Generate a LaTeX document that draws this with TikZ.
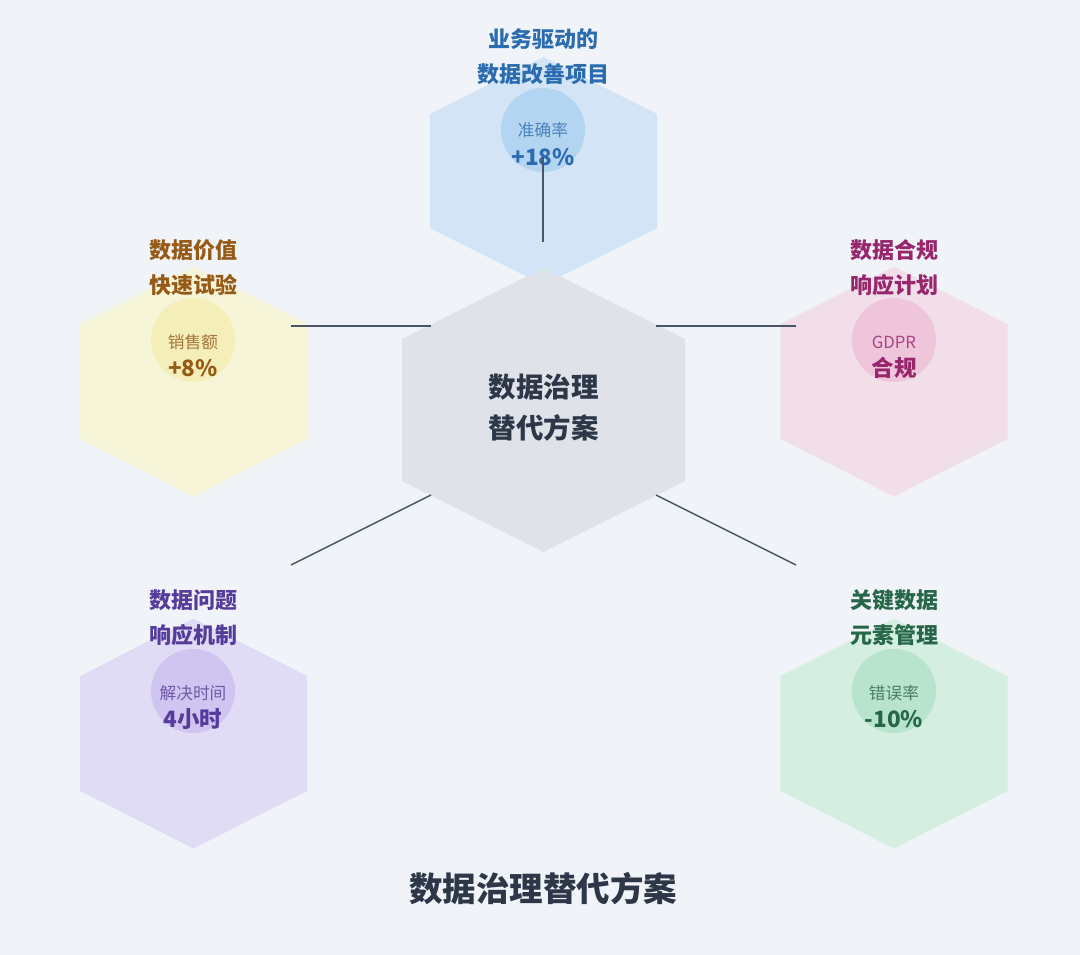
\documentclass[tikz,border=0pt]{standalone}
\usepackage{fontspec}
\setmainfont{Noto Sans CJK SC}
\definecolor{bg}{HTML}{F0F4F8}
\definecolor{linec}{HTML}{4A5568}
\definecolor{darkt}{HTML}{2D3748}
\definecolor{blueT}{HTML}{2B6CB0}\definecolor{blueH}{HTML}{D2E4F5}\definecolor{blueC}{HTML}{B4D5F2}
\definecolor{brownT}{HTML}{975A16}\definecolor{brownH}{HTML}{F6F5D8}\definecolor{brownC}{HTML}{F4EFB8}
\definecolor{pinkT}{HTML}{97266D}\definecolor{pinkH}{HTML}{F2DEE9}\definecolor{pinkC}{HTML}{EEC5DA}
\definecolor{purpT}{HTML}{553C9A}\definecolor{purpH}{HTML}{E0DCF5}\definecolor{purpC}{HTML}{D0C4F0}
\definecolor{greenT}{HTML}{276749}\definecolor{greenH}{HTML}{D4EEE2}\definecolor{greenC}{HTML}{B8E4CE}
\definecolor{centH}{HTML}{DEE2E8}
\newcommand\hexpath[4]{(#1,#2-#4) -- (#1+#3,#2-#4/2) -- (#1+#3,#2+#4/2) -- (#1,#2+#4) -- (#1-#3,#2+#4/2) -- (#1-#3,#2-#4/2) -- cycle}
\tikzset{
  metcircle/.style={circle, minimum size=84pt, inner sep=0pt},
  sidetitle/.style={font=\fontsize{22}{34.5}\selectfont\bfseries, align=center, inner sep=0pt},
  metlabel/.style={font=\fontsize{16.7}{18}\selectfont, inner sep=0pt},
  metvalue/.style={font=\fontsize{22.5}{24}\selectfont\bfseries, inner sep=0pt},
  conn/.style={draw=linec, line width=1.4pt},
}
\begin{document}
\begin{tikzpicture}[x=1pt,y=-1pt]
\fill[bg] (0,0) rectangle (1080,955);
\useasboundingbox (0,0) rectangle (1080,955);
% hexagons
\fill[blueH] \hexpath{543.5}{171}{113.5}{114};
\fill[brownH] \hexpath{193.5}{381.5}{113.5}{115};
\fill[pinkH] \hexpath{894}{381.5}{113.5}{115};
\fill[purpH] \hexpath{193.5}{733.5}{113.5}{115};
\fill[greenH] \hexpath{894}{733.5}{113.5}{115};
\fill[centH, fill opacity=0.92] \hexpath{543.5}{410}{141.5}{142};
% circles
\node[metcircle, fill=blueC] (ctop) at (543,130) {};
\node[metcircle, fill=brownC] (cleft) at (193,340) {};
\node[metcircle, fill=pinkC] (cright) at (894,340) {};
\node[metcircle, fill=purpC] (cbl) at (193,691) {};
\node[metcircle, fill=greenC] (cbr) at (894,691) {};
% metric texts
\node[metlabel, text=blueT!85!white] (mtop) at (543,130) {准确率};
\node[metvalue, text=blueT] (vtop) at (543,157) {+18\%};
\node[metlabel, text=brownT!85!white] (mleft) at (193,342) {销售额};
\node[metvalue, text=brownT] (vleft) at (193,368) {+8\%};
\node[metlabel, text=pinkT!85!white] (mright) at (894,342) {GDPR};
\node[metvalue, text=pinkT] (vright) at (894,368) {合规};
\node[metlabel, text=purpT!85!white] (mbl) at (193,693) {解决时间};
\node[metvalue, text=purpT] (vbl) at (193,719) {4小时};
\node[metlabel, text=greenT!85!white] (mbr) at (894,693) {错误率};
\node[metvalue, text=greenT] (vbr) at (894,719) {-10\%};
% titles
\node[sidetitle, text=blueT] (ttop) at (543,56.5) {业务驱动的\\数据改善项目};
\node[sidetitle, text=brownT] (tleft) at (193,267.5) {数据价值\\快速试验};
\node[sidetitle, text=pinkT] (tright) at (894,267.5) {数据合规\\响应计划};
\node[sidetitle, text=purpT] (tbl) at (193,617.5) {数据问题\\响应机制};
\node[sidetitle, text=greenT] (tbr) at (894,617.5) {关键数据\\元素管理};
% center
\node[font=\fontsize{27.5}{41}\selectfont\bfseries, text=darkt, align=center, inner sep=0pt] (center) at (543.5,408) {数据治理\\替代方案};
\node[font=\fontsize{33.5}{36}\selectfont\bfseries, text=darkt, inner sep=0pt] (title) at (543,889) {数据治理替代方案};
% connector end points
\coordinate (a1) at (543,242); \coordinate (a2) at (543,157);
\coordinate (b1) at (431,326); \coordinate (b2) at (291,326);
\coordinate (c1) at (656,326); \coordinate (c2) at (796,326);
\coordinate (d1) at (431,495); \coordinate (d2) at (291,565);
\coordinate (e1) at (656,495); \coordinate (e2) at (796,565);
\draw[conn] (a1) -- (a2);
\draw[conn] (b1) -- (b2);
\draw[conn] (c1) -- (c2);
\draw[conn] (d1) -- (d2);
\draw[conn] (e1) -- (e2);
\end{tikzpicture}
\end{document}
